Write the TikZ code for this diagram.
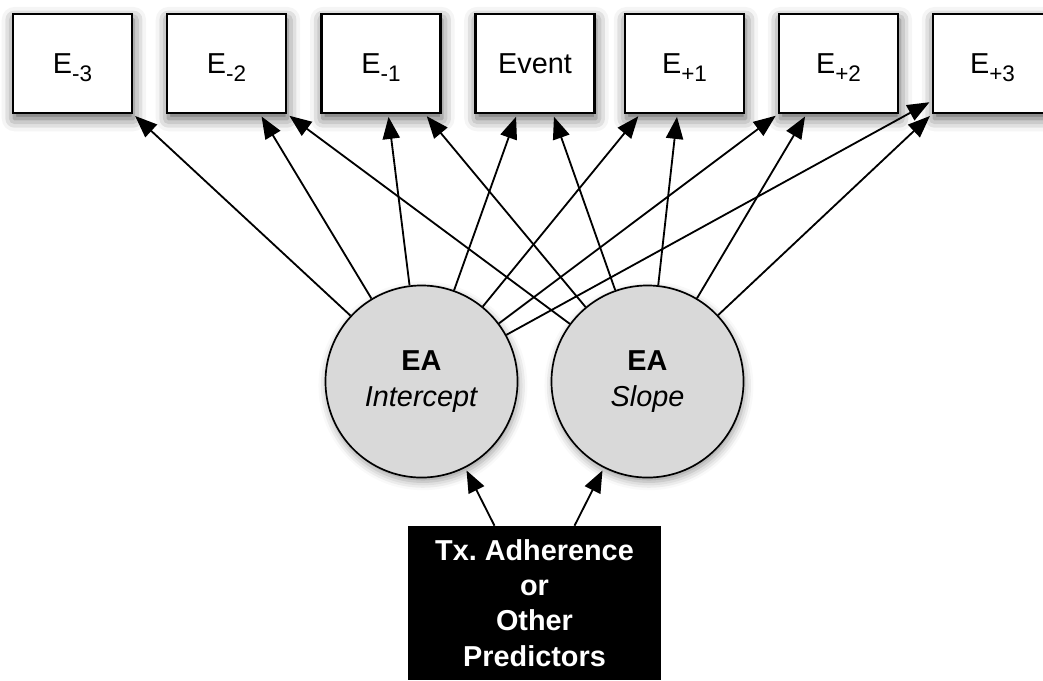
\documentclass[tikz,border=0pt]{standalone}
\usepackage{fontspec}
\setmainfont{Liberation Sans}
\usetikzlibrary{arrows.meta,calc,shadows.blur}

\newcommand{\occ}[1]{E\raisebox{-0.5ex}[0pt][0pt]{\fontsize{16}{16}\selectfont #1}}

\tikzset{
    epoch/.style={draw, line width=1.5pt, fill=white, minimum width=2.975cm, minimum height=2.475cm,
        blur shadow={shadow xshift=1pt, shadow yshift=-4pt, shadow blur radius=9pt, shadow opacity=65}},
    factor/.style={circle, draw, line width=1.2pt, fill=gray!30, minimum size=4.8cm, align=center,
        blur shadow={shadow xshift=1pt, shadow yshift=-3pt, shadow blur radius=6pt, shadow opacity=40}},
    pred/.style={fill=black, text=white, minimum width=6.325cm, minimum height=3.85cm, align=center,
        font=\fontsize{20.5}{25}\selectfont\bfseries},
    load/.style={-{Triangle[length=0.55cm,width=0.43cm]}, line width=1.3pt, shorten >=2pt},
}

\begin{document}
\begin{tikzpicture}[x=0.025cm, y=-0.025cm, font=\fontsize{20.5}{25}\selectfont]
    \useasboundingbox (0,0) rectangle (1043,680);

    % measurement occasions
    \node[epoch] (Em3) at (72.5,63.5) {\occ{-3}};
    \node[epoch] (Em2) at (226.5,63.5) {\occ{-2}};
    \node[epoch] (Em1) at (381,63.5) {\occ{-1}};
    \node[epoch] (Ev) at (535,63.5) {Event};
    \node[epoch] (Ep1) at (684.5,63.5) {\occ{+1}};
    \node[epoch] (Ep2) at (838.5,63.5) {\occ{+2}};
    \node[epoch] (Ep3) at (992.5,63.5) {\occ{+3}};

    % latent growth factors
    \node[factor] (I) at (421.5,381.5) {\textbf{EA}\\\textit{Intercept}};
    \node[factor] (S) at (647.5,381.5) {\textbf{EA}\\\textit{Slope}};

    % predictor
    \node[pred] (Tx) at (534.5,603) {Tx.\ Adherence\\or\\Other\\Predictors};

    % intercept loadings
    \draw[load] (I) -- (Em3.south east);
    \draw[load] (I) -- ([xshift=0.84cm]Em2.south);
    \draw[load] (I) -- ([xshift=0.18cm]Em1.south);
    \draw[load] (I) -- ([xshift=-0.45cm]Ev.south);
    \draw[load] (I) -- ([xshift=-1.11cm]Ep1.south);
    \draw[load] (I) -- (Ep2.south west);
    \draw[load] (I) -- ([yshift=0.33cm]Ep3.south west);

    % slope loadings
    \draw[load] (S) -- (Em2.south east);
    \draw[load] (S) -- ([xshift=1.1cm]Em1.south);
    \draw[load] (S) -- ([xshift=0.45cm]Ev.south);
    \draw[load] (S) -- ([xshift=-0.18cm]Ep1.south);
    \draw[load] (S) -- ([xshift=-0.8cm]Ep2.south);
    \draw[load] (S) -- (Ep3.south west);

    % predictor paths
    \draw[load] ([xshift=-1cm]Tx.north) -- (I);
    \draw[load] ([xshift=1cm]Tx.north) -- (S);
\end{tikzpicture}
\end{document}
